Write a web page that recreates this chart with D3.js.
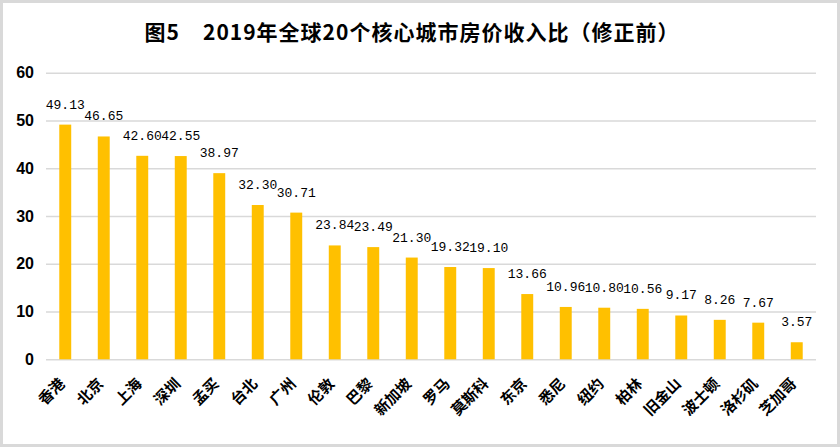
<!DOCTYPE html>
<html>
<head>
<meta charset="utf-8">
<script src="https://d3js.org/d3.v7.min.js"></script>
<style>
  body { margin: 0; background: #fff; }
</style>
</head>
<body>
<svg id="chart" width="840" height="447"></svg>
<script>
// data
var cities = ['香港','北京','上海','深圳','孟买','台北','广州','伦敦','巴黎','新加坡',
              '罗马','莫斯科','东京','悉尼','纽约','柏林','旧金山','波士顿','洛杉矶','芝加哥'];
var ratios = [49.13, 46.65, 42.60, 42.55, 38.97, 32.30, 30.71, 23.84, 23.49, 21.30,
              19.32, 19.10, 13.66, 10.96, 10.80, 10.56, 9.17, 8.26, 7.67, 3.57];
var yTicks = [0, 10, 20, 30, 40, 50, 60];

var data = cities.map(function(c, i) { return {city: c, v: ratios[i]}; });

var svg = d3.select('#chart');

// outer frame
svg.append('rect')
  .attr('x', 1.5).attr('y', 1.5)
  .attr('width', 837).attr('height', 444)
  .attr('fill', 'none')
  .attr('stroke', '#d9d9d9')
  .attr('stroke-width', 3);

// title
svg.append('text')
  .attr('x', 412)
  .attr('y', 40)
  .attr('text-anchor', 'middle')
  .style('font-family', '"Noto Sans CJK SC", sans-serif')
  .style('font-weight', 'bold')
  .style('font-size', '21px')
  .style('letter-spacing', '1px')
  .text('图5\u00a0\u00a0\u00a0\u00a02019年全球20个核心城市房价收入比（修正前）');

var xs = d3.scaleBand().domain(cities).range([46, 816]).paddingInner(0.69).paddingOuter(0.345);
var ys = d3.scaleLinear().domain([0, 60]).range([359.3, 72.7]);

// gridlines
var yAxis = d3.axisLeft(ys).tickValues(yTicks).tickSize(-(816 - 46)).tickPadding(12);
var yg = svg.append('g')
  .attr('transform', 'translate(46,0)')
  .call(yAxis);
yg.select('.domain').remove();
yg.selectAll('.tick line')
  .attr('stroke', '#d9d9d9')
  .attr('stroke-width', 1.5);
yg.selectAll('.tick text')
  .attr('fill', '#000')
  .style('font-family', '"Liberation Sans", Arial, sans-serif')
  .style('font-weight', 'bold')
  .style('font-size', '16px');

// bars
svg.append('g')
  .selectAll('rect')
  .data(data)
  .enter()
  .append('rect')
    .attr('x', function(d) { return xs(d.city); })
    .attr('y', function(d) { return ys(d.v); })
    .attr('width', xs.bandwidth())
    .attr('height', function(d) { return ys(0) - ys(d.v); })
    .attr('fill', '#ffc000');

// value labels
svg.append('g')
  .selectAll('text')
  .data(data)
  .enter()
  .append('text')
    .attr('x', function(d) { return xs(d.city) + xs.bandwidth() / 2; })
    .attr('y', function(d) { return ys(d.v) - 16; })
    .attr('text-anchor', 'middle')
    .style('font-family', '"Liberation Mono", monospace')
    .style('font-size', '13px')
    .attr('fill', '#000')
    .text(function(d) { return d.v.toFixed(2); });

// category labels (rotated)
svg.append('g')
  .selectAll('text')
  .data(data)
  .enter()
  .append('text')
    .attr('transform', function(d) {
      var cx = xs(d.city) + xs.bandwidth() / 2 - 3;
      return 'translate(' + cx + ',381) rotate(-45)';
    })
    .attr('text-anchor', 'end')
    .attr('dy', '0.35em')
    .style('font-family', '"Noto Sans CJK SC", sans-serif')
    .style('font-weight', 'bold')
    .style('font-size', '15px')
    .attr('fill', '#000')
    .text(function(d) { return d.city; });
</script>
</body>
</html>
